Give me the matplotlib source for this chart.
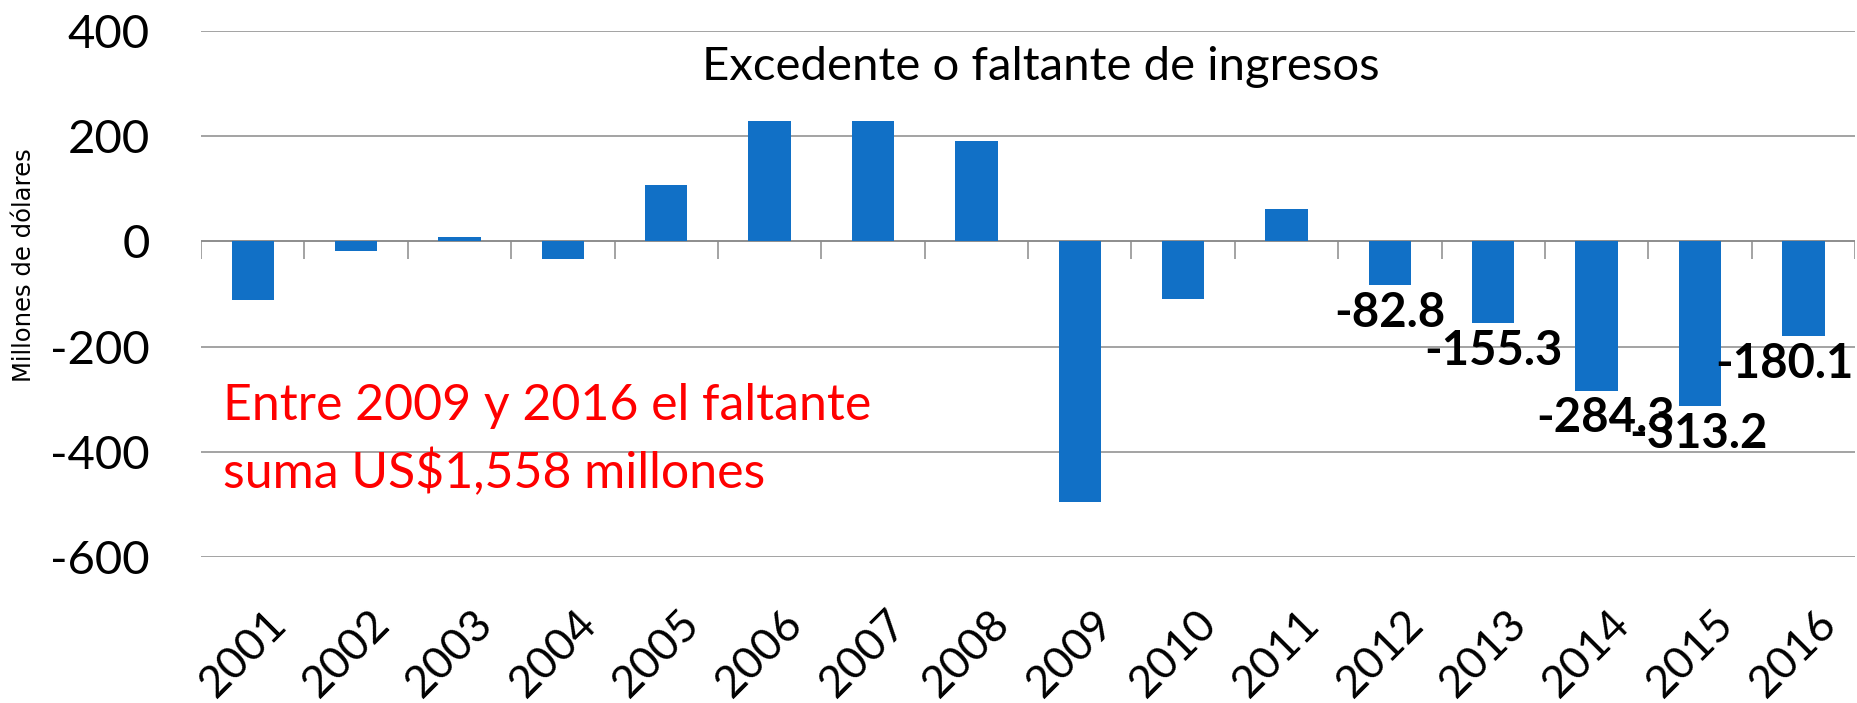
import numpy as np
import matplotlib
matplotlib.use('Agg')
import matplotlib.pyplot as plt
from matplotlib.transforms import ScaledTranslation

# Data (millones de dolares)
years = ['2001', '2002', '2003', '2004', '2005', '2006', '2007', '2008',
         '2009', '2010', '2011', '2012', '2013', '2014', '2015', '2016']
values = [-112, -18, 8, -33, 107, 228, 228, 190,
          -495, -109, 61, -82.8, -155.3, -284.3, -313.2, -180.1]
# only the last five bars carry a value label
labelled = ['2012', '2013', '2014', '2015', '2016']
label_dx = [0, 0, 9, -2, -19]   # small horizontal nudges, in pixels

plt.rcParams['font.family'] = ['Lato', 'DejaVu Sans']
plt.rcParams['axes.unicode_minus'] = False

fig = plt.figure(figsize=(18.58, 7.03), dpi=100)
ax = fig.add_axes([0.1082, 0.2077, 0.8902, 0.7482])

x = np.arange(len(years))
bars = ax.bar(x, values, width=0.41, color='#1170c6', zorder=3)

# Axes layout
ax.set_xlim(-0.5, len(years) - 0.5)
ax.set_ylim(-600, 400)
ax.set_yticks([-600, -400, -200, 0, 200, 400])
ax.yaxis.grid(True, color='#8a8a8a', linewidth=1.1, zorder=0)
ax.axhline(0, color='#8a8a8a', linewidth=1.1, zorder=2)
for s in ax.spines.values():
    s.set_visible(False)

# category boundary ticks hanging below the zero line
bounds = np.arange(len(years) + 1) - 0.5
ax.vlines(bounds, -34, 0, color='#8a8a8a', linewidth=1.1, zorder=2)

ax.tick_params(axis='y', length=0, pad=37, labelsize=34, labelcolor='black')
ax.tick_params(axis='x', length=0, pad=43, labelsize=32, labelcolor='black')
ax.set_xticks(x)
ax.set_xticklabels(years, rotation=45, ha='right', va='center',
                   rotation_mode='anchor')
# nudge the rotated year labels to the right a little
for t in ax.get_xticklabels():
    t.set_transform(t.get_transform() + ScaledTranslation(0.27, 0, fig.dpi_scale_trans))

# value labels
for yr, dx in zip(labelled, label_dx):
    i = years.index(yr)
    ax.annotate(f'{values[i]:.1f}', xy=(x[i], values[i]),
                xytext=(dx * 0.72, -4), textcoords='offset points',
                ha='center', va='top', fontsize=34, fontweight='bold',
                color='black', zorder=4)

# title inside the plot area
fig.text(0.56, 0.905, 'Excedente o faltante de ingresos', ha='center',
         va='center', fontsize=34, color='black')

# y axis label
fig.text(0.013, 0.623, 'Millones de dólares', rotation=90, ha='center',
         va='center', fontsize=17.5, family='DejaVu Sans')

# red note
ax.text(0.013, 0.222, 'Entre 2009 y 2016 el faltante\nsuma US$1,558 millones',
        transform=ax.transAxes, color='red', fontsize=36, ha='left',
        va='center', linespacing=1.5)

fig.savefig('out.png', dpi=100)
